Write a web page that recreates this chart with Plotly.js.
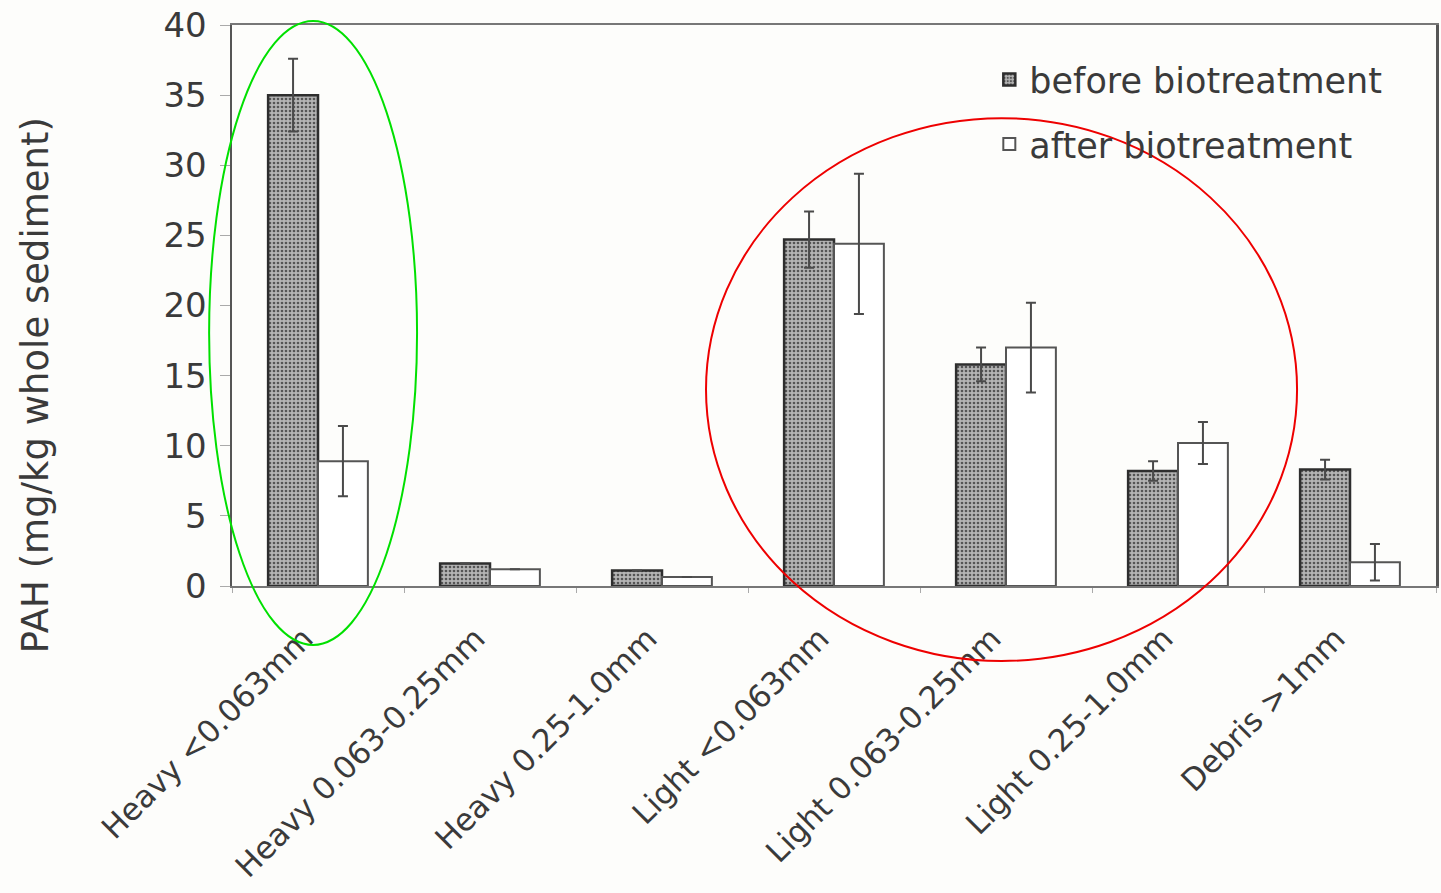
<!DOCTYPE html>
<html>
<head>
<meta charset="utf-8">
<script src="https://cdn.plot.ly/plotly-3.0.1.min.js"></script>
<style>html,body{margin:0;padding:0;background:#fdfdfb;}#chart{width:1441px;height:893px;}</style>
</head>
<body>
<div id="chart"></div>
<script>
const categories = ["Heavy <0.063mm", "Heavy 0.063-0.25mm", "Heavy 0.25-1.0mm", "Light <0.063mm", "Light 0.063-0.25mm", "Light 0.25-1.0mm", "Debris >1mm"];
const beforeValues = [35.0, 1.6, 1.1, 24.7, 15.8, 8.2, 8.3];
const beforeErrors = [2.6, 0, 0, 2.0, 1.2, 0.7, 0.7];
const afterValues = [8.9, 1.2, 0.65, 24.4, 17.0, 10.2, 1.7];
const afterErrors = [2.5, 0, 0, 5.0, 3.2, 1.5, 1.3];
const yTicks = [0, 5, 10, 15, 20, 25, 30, 35, 40];

const textColor = '#3a3a3a';
const fontFamily = 'DejaVu Sans, Arial, sans-serif';

const traces = [
  {
    type: 'bar', name: 'before biotreatment', x: categories, y: beforeValues, legendgroup: 'a',
    marker: {color: '#a8a8a8', line: {color: '#2e2e2e', width: 2.5},
             pattern: {shape: '.', fgcolor: '#555', bgcolor: '#b4b4b4', size: 4, solidity: 0.35}},
    error_y: {type: 'data', array: beforeErrors, visible: true, color: '#4a4a4a', thickness: 2, width: 5}
  },
  {
    type: 'bar', name: 'after biotreatment', x: categories, y: afterValues, legendgroup: 'b',
    marker: {color: '#ffffff', line: {color: '#555', width: 2}},
    error_y: {type: 'data', array: afterErrors, visible: true, color: '#4a4a4a', thickness: 2, width: 5}
  }
];

const layout = {
  width: 1441, height: 893,
  paper_bgcolor: '#fdfdfb', plot_bgcolor: '#fdfdfb',
  margin: {l: 232, r: 5, t: 25, b: 307},
  barmode: 'group', bargap: 0.42, bargroupgap: 0,
  font: {family: fontFamily, color: textColor},
  showlegend: true,
  legend: {x: 0.629, y: 0.955, xanchor: 'left', yanchor: 'top', bgcolor: 'rgba(0,0,0,0)',
           font: {size: 35, color: textColor}, traceorder: 'grouped', tracegroupgap: 16},
  xaxis: {
    tickangle: -45, tickfont: {size: 31, color: textColor},
    ticklabelstandoff: 20, ticklabelshift: -14,
    showline: true, linecolor: '#777', linewidth: 2, mirror: true,
    ticks: 'outside', tickson: 'boundaries', ticklen: 5, tickcolor: '#aaa',
    showgrid: false
  },
  yaxis: {
    range: [0, 40], tickvals: yTicks, ticktext: yTicks.map(String),
    tickfont: {size: 34, color: textColor}, ticklabelstandoff: 6,
    showline: true, linecolor: '#555', linewidth: 2.5, mirror: true,
    ticks: 'outside', ticklen: 10, tickcolor: '#aaa',
    showgrid: false, zeroline: false
  },
  annotations: [
    {text: 'PAH (mg/kg whole sediment)', xref: 'paper', yref: 'paper', x: -0.1636, y: 0.358,
     xanchor: 'center', yanchor: 'middle', textangle: -90, showarrow: false,
     font: {size: 37, color: textColor, family: fontFamily}}
  ],
  shapes: [
    {type: 'circle', xref: 'paper', yref: 'paper', x0: -0.019, x1: 0.1537, y0: -0.105, y1: 1.007,
     line: {color: '#00e000', width: 2}, layer: 'above'},
    {type: 'circle', xref: 'paper', yref: 'paper', x0: 0.3937, x1: 0.8846, y0: -0.1337, y1: 0.834,
     line: {color: '#ee0000', width: 2}, layer: 'above'}
  ]
};

Plotly.newPlot('chart', traces, layout, {displayModeBar: false, staticPlot: true});
</script>
</body>
</html>
